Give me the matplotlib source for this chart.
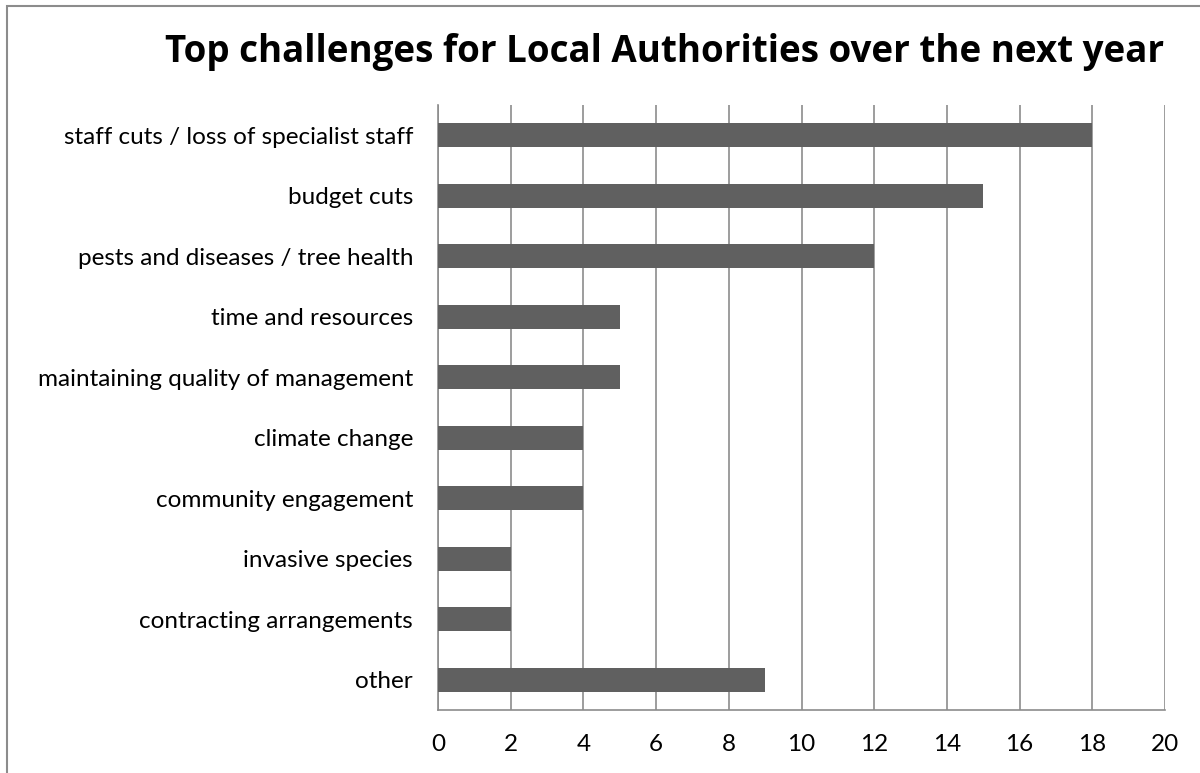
import matplotlib.pyplot as plt
from matplotlib.patches import Rectangle

# Survey responses, top to bottom
challenges = [
    "staff cuts / loss of specialist staff",
    "budget cuts",
    "pests and diseases / tree health",
    "time and resources",
    "maintaining quality of management",
    "climate change",
    "community engagement",
    "invasive species",
    "contracting arrangements",
    "other",
]
counts = [18, 15, 12, 5, 5, 4, 4, 2, 2, 9]
xticks = list(range(0, 21, 2))

plt.rcParams['font.family'] = ['Lato', 'DejaVu Sans']

fig = plt.figure(figsize=(12, 7.73), dpi=100)
ax = fig.add_axes([438 / 1200, 1 - 710 / 773, (1165 - 438) / 1200, (710 - 105) / 773])

ypos = list(range(len(challenges)))[::-1]
ax.barh(ypos, counts, height=0.4, color="#606060", zorder=3)

ax.set_xlim(0, 20)
ax.set_ylim(-0.5, len(challenges) - 0.5)
ax.set_xticks(xticks)
ax.set_xticklabels([str(v) for v in xticks], fontsize=17.5)
ax.set_yticks(ypos)
ax.set_yticklabels(challenges, fontsize=17.5)
ax.tick_params(length=0)
ax.tick_params(axis='y', pad=18)
ax.tick_params(axis='x', pad=17)
ax.grid(axis='x', color="#8c8c8c", linewidth=1.2, zorder=0)

for side in ['top', 'right']:
    ax.spines[side].set_visible(False)
ax.spines['left'].set_color("#8c8c8c")
ax.spines['bottom'].set_color("#8c8c8c")
ax.spines['left'].set_linewidth(1.2)
ax.spines['bottom'].set_linewidth(1.2)

fig.text(664.5 / 1200, 1 - 52 / 773, "Top challenges for Local Authorities over the next year",
         ha='center', va='center', fontsize=26.5, fontweight='bold',
         family=['Open Sans', 'DejaVu Sans'])

# chart frame (runs off the right and bottom edges)
fig.patches.append(Rectangle((7 / 1200, -0.1), 1.2, 1 - 6 / 773 + 0.1,
                             transform=fig.transFigure, fill=False,
                             edgecolor="#8c8c8c", linewidth=1.5))

fig.savefig("out.png", dpi=100)
